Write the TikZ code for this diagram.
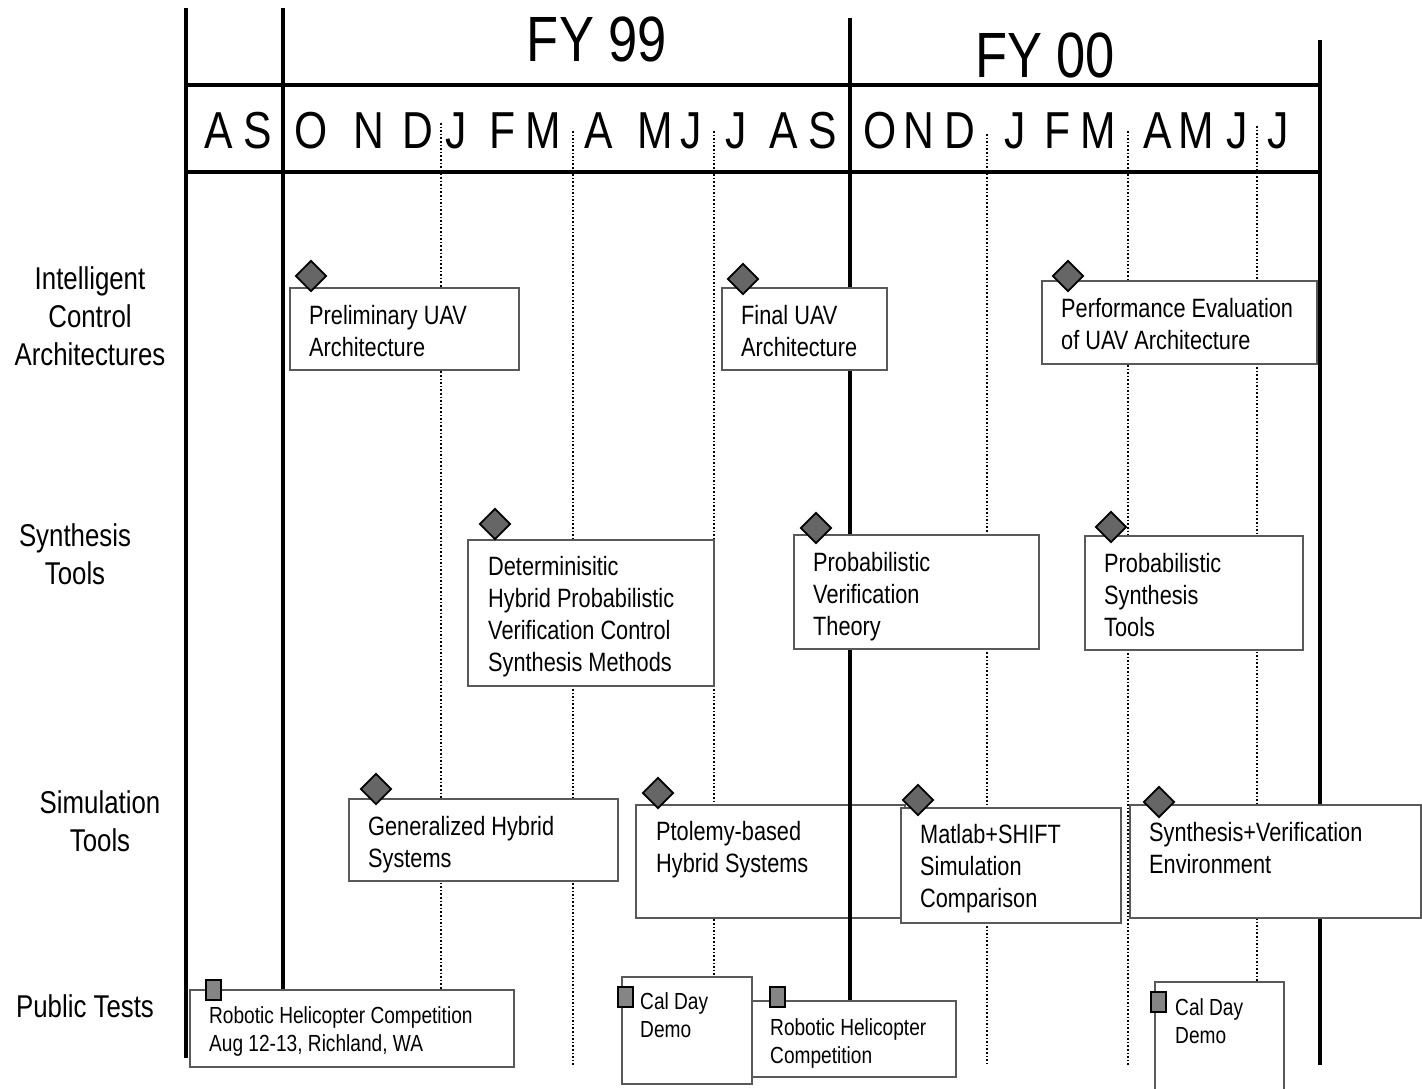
\documentclass[tikz,border=0pt]{standalone}
\usepackage{fontspec}
\setmainfont{Liberation Sans}[FakeStretch=0.82]
\usetikzlibrary{shapes.geometric}
\begin{document}
\begin{tikzpicture}[x=1pt,y=-1pt,font=\fontsize{26.5}{32}\selectfont,
  grid/.style={line width=3.2pt},
  sub/.style={dotted,line width=1.6pt},
  evbox/.style={draw=black!65,line width=1.1pt,fill=white},
  evtext/.style={anchor=north west,inner sep=0pt,align=left},
  pubtext/.style={evtext,font=\fontsize{23.3}{28}\selectfont},
  ms/.style={diamond,draw,line width=1.8pt,fill=black!60,minimum width=31pt,minimum height=31pt,inner sep=0pt},
  demo/.style={draw,line width=2pt,fill=black!48,minimum width=15pt,minimum height=20pt,inner sep=0pt},
  rowlab/.style={align=center,font=\fontsize{31.5}{38}\selectfont},
  mon/.style={inner sep=0pt,font=\fontsize{52}{52}\selectfont},
  fy/.style={inner sep=0pt,font=\fontsize{64}{64}\selectfont}]
\useasboundingbox (0,0) rectangle (1422,1089);
% quarter lines and year grid
\foreach \x/\t in {441/123,573/131,714/131,987/134,1128/131,1257/126} \draw[sub] (\x,\t)--(\x,1065);
\draw[grid] (186,8)--(186,1058);\draw[grid] (283,8)--(283,1060);
\draw[grid] (850,18)--(850,1060);\draw[grid] (1320,40)--(1320,1065);
\draw[grid] (186,85)--(1320,85);\draw[grid] (186,172)--(1320,172);
\node[fy] (fy99) at (597,39) {FY 99};
\node[fy] (fy00) at (1045,55) {FY 00};
\foreach \m/\x in {A/219,S/258,O/311,N/369,D/418,J/456,F/503,M/543,A/599,M/655,J/691,J/736,A/784,S/823,O/880,N/919,D/960,J/1015,F/1058,M/1098,A/1158,M/1196,J/1237,J/1278}
  \node[mon] (m\x) at (\x,131) {\m};
% rows
\node[rowlab] (rowica) at (90,316) {Intelligent\\Control\\Architectures};
\node[rowlab] (rowsyn) at (75,554) {Synthesis\\Tools};
\node[rowlab] (rowsim) at (100,821) {Simulation\\Tools};
\node[rowlab] (rowpub) at (85,1006) {Public Tests};
% milestones
\draw[evbox] (290,288) rectangle (519,370);\node[evtext] (t1) at (309,305) {Preliminary UAV\\Architecture};
\draw[evbox] (722,288) rectangle (887,370);\node[evtext] (t2) at (741,305) {Final UAV\\Architecture};
\draw[evbox] (1042,281) rectangle (1317,364);\node[evtext] (t3) at (1061,298) {Performance Evaluation\\of UAV Architecture};
\draw[evbox] (468,540) rectangle (714,686);\node[evtext] (t4) at (488,556) {Determinisitic\\Hybrid Probabilistic\\Verification Control\\Synthesis Methods};
\draw[evbox] (794,535) rectangle (1039,649);\node[evtext] (t5) at (813,552) {Probabilistic\\Verification\\Theory};
\draw[evbox] (1085,536) rectangle (1303,650);\node[evtext] (t6) at (1104,553) {Probabilistic\\Synthesis\\Tools};
\draw[evbox] (349,799) rectangle (618,881);\node[evtext] (t7) at (368,816) {Generalized Hybrid\\Systems};
\draw[evbox] (636,805) rectangle (905,918);\node[evtext] (t8) at (656,821) {Ptolemy-based\\Hybrid Systems};
\draw[grid] (850,800)--(850,925);
\draw[evbox] (901,808) rectangle (1121,923);\node[evtext] (t9) at (920,824) {Matlab+SHIFT\\Simulation\\Comparison};
\draw[evbox] (1130,805) rectangle (1421,918);\node[evtext] (t10) at (1149,822) {Synthesis+Verification\\Environment};
\foreach \x/\y [count=\i] in {311/276,743/279,1068/276,495/524,816/528,1111/527,376/789,658/793,918/800,1159/802}
  \node[ms] (d\i) at (\x,\y) {};
% public tests
\draw[evbox] (190,990) rectangle (514,1067);\node[pubtext] (p1) at (209,1006) {Robotic Helicopter Competition\\Aug 12-13, Richland, WA};
\draw[evbox] (700,1001) rectangle (956,1077);\node[pubtext] (p3) at (770,1018) {Robotic Helicopter\\Competition};
\draw[evbox] (622,977) rectangle (752,1084);\node[pubtext] (p2) at (640,992) {Cal Day\\Demo};
\draw[evbox] (1155,982) rectangle (1284,1100);\node[pubtext] (p4) at (1175,998) {Cal Day\\Demo};
\foreach \x/\y [count=\i] in {213/990,625/997,777/997,1158/1002}
  \node[demo] (q\i) at (\x,\y) {};
\end{tikzpicture}
\end{document}
